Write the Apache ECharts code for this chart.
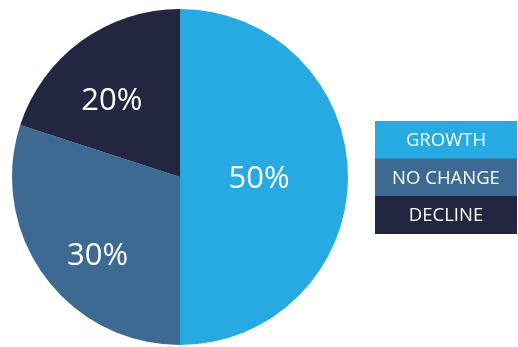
<!DOCTYPE html>
<html>
<head>
<meta charset="utf-8">
<script src="https://cdn.jsdelivr.net/npm/echarts@6/dist/echarts.min.js"></script>
<style>
  html, body { margin: 0; padding: 0; background: #ffffff; }
  #chart { width: 518px; height: 347px; }
</style>
</head>
<body>
<div id="chart"></div>
<script>
// Share of responses by outcome
const categories = ['GROWTH', 'NO CHANGE', 'DECLINE'];
const shares = [50, 30, 20];
const colors = ['#27aae1', '#3c6a93', '#232640'];

// Nudges for the in-slice percentage labels (pixels)
const labelShift = [[-8, 2], [-12, 28], [-17, -5]];

const chart = echarts.init(document.getElementById('chart'), null, { renderer: 'canvas' });

// Legend: a stack of coloured bars with centred captions
const legendX = 375, legendY = 121, legendW = 142, rowH = 37.5;
const legendGraphics = [];
categories.forEach((name, i) => {
  legendGraphics.push({
    type: 'rect',
    left: legendX,
    top: legendY + i * rowH,
    shape: { width: legendW, height: rowH + 0.5 },
    style: { fill: colors[i] },
    silent: true
  });
  legendGraphics.push({
    type: 'text',
    x: legendX + legendW / 2,
    y: legendY + i * rowH + rowH / 2 + 1,
    style: {
      text: name,
      fill: '#ffffff',
      font: '18.5px "Open Sans", sans-serif',
      textAlign: 'center',
      textVerticalAlign: 'middle'
    },
    silent: true
  });
});

chart.setOption({
  animation: false,
  backgroundColor: '#ffffff',
  graphic: legendGraphics,
  series: [{
    type: 'pie',
    center: [180, 177],
    radius: 168,
    startAngle: 90,
    clockwise: true,
    silent: true,
    data: categories.map((name, i) => ({
      name: name,
      value: shares[i],
      itemStyle: { color: colors[i] }
    })),
    itemStyle: { borderWidth: 0 },
    label: {
      show: true,
      position: 'inside',
      formatter: p => p.value + '%',
      color: '#ffffff',
      fontFamily: '"Open Sans", sans-serif',
      fontSize: 31
    },
    labelLine: { show: false },
    labelLayout: p => ({ dx: labelShift[p.dataIndex][0], dy: labelShift[p.dataIndex][1] })
  }]
});
</script>
</body>
</html>
